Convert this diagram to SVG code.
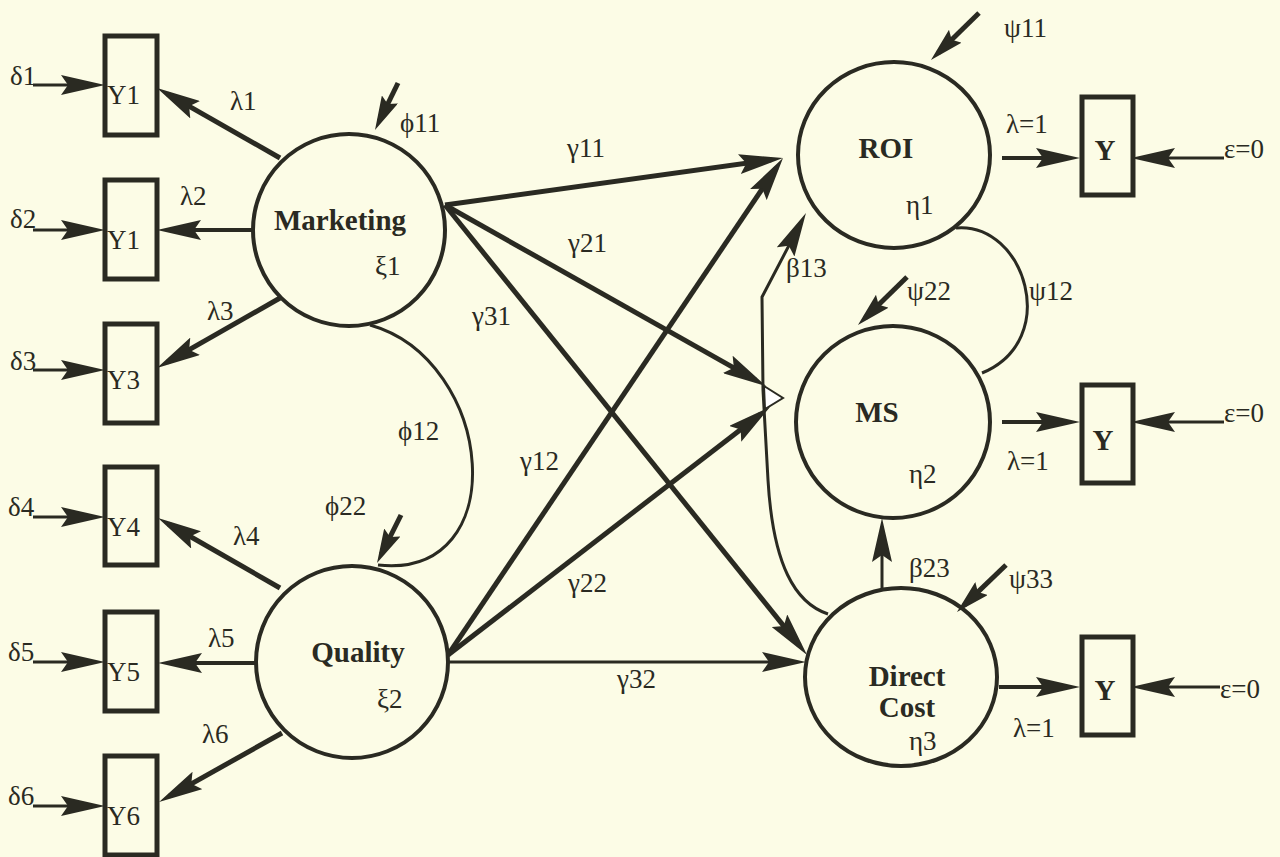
<svg xmlns="http://www.w3.org/2000/svg" width="1280" height="857" viewBox="0 0 1280 857">
<defs>
<style>
.ln{fill:none;stroke:#2a2a22;stroke-linecap:butt;stroke-linejoin:round}
.w5{stroke-width:5}
.w4{stroke-width:4}
.w3{stroke-width:3}
.arr{marker-end:url(#ah)}
.sm{marker-end:url(#ahs)}
.shape{fill:none;stroke:#2a2a22;stroke-width:4}
.box{fill:none;stroke:#2a2a22;stroke-width:5}
text{font-family:"Liberation Serif","Times New Roman",serif;font-size:27px;fill:#2a2a22}
.bold{font-weight:bold;font-size:29px}
.mid{text-anchor:middle}
</style>
<marker id="ah" viewBox="0 0 44 20" refX="32" refY="10" markerWidth="44" markerHeight="20" markerUnits="userSpaceOnUse" orient="auto">
<path d="M0,0 L44,10 L0,20 L7,10 Z" fill="#2a2a22"/>
</marker>
<marker id="ahs" viewBox="0 0 34 18" refX="24" refY="9" markerWidth="34" markerHeight="18" markerUnits="userSpaceOnUse" orient="auto">
<path d="M0,0 L34,9 L0,18 L5,9 Z" fill="#2a2a22"/>
</marker>
</defs>
<rect width="1280" height="857" fill="#fcfce6"/>

<!-- connectors -->
<g id="connectors">
<!-- measurement errors into indicators -->
<path class="ln w3 arr" d="M33,85 L93,85"/>
<path class="ln w3 arr" d="M33,230 L93,230"/>
<path class="ln w3 arr" d="M33,370 L93,370"/>
<path class="ln w3 arr" d="M33,517 L93,517"/>
<path class="ln w3 arr" d="M33,662 L93,662"/>
<path class="ln w3 arr" d="M33,806 L93,806"/>
<!-- loadings -->
<path class="ln w5 arr" d="M280,158 L167.4,93.9"/>
<path class="ln w4 arr" d="M252,230 L169,230"/>
<path class="ln w5 arr" d="M280,298 L167.4,362.1"/>
<path class="ln w5 arr" d="M280,588 L168.4,524"/>
<path class="ln w4 arr" d="M255,663 L170,663"/>
<path class="ln w5 arr" d="M282,733 L169.5,796.1"/>
<!-- variances of exogenous factors -->
<path class="ln w5 sm" d="M398,83 L379.4,121"/>
<path class="ln w5 sm" d="M401,515 L381.5,554"/>
<!-- covariance phi12 -->
<path class="ln w3" d="M370,325 C495,360 515,580 378,565"/>
<!-- structural paths -->
<path class="ln w5 arr" d="M445,205 L771.1,159.7"/>
<path class="ln w5 arr" d="M445,205 L755.6,380.1"/>
<path class="ln w5 arr" d="M445,205 L799.5,645.6"/>
<path class="ln w5 arr" d="M448,655 L776.3,168"/>
<path class="ln w5 arr" d="M448,655 L760.5,414.3"/>
<path class="ln w3 arr" d="M448,662 L794,662"/>
<!-- beta paths -->
<path class="ln w3 arr" d="M828,614 C795,603 773,565 768,480 L763,390 L762,297 L800.4,223.6"/>
<path class="ln w3 arr" d="M882,590 L882,530"/>
<polygon points="764,386 783,398 765,409" fill="#ffffff" stroke="#2a2a22" stroke-width="2"/>
<!-- disturbances -->
<path class="ln w5 sm" d="M979,13 L938.1,53"/>
<path class="ln w5 sm" d="M907,277 L865.1,318"/>
<path class="ln w5 sm" d="M1006,565 L964.2,605.1"/>
<!-- covariance psi12 -->
<path class="ln w3" d="M956,228 C1025,222 1062,340 982,373"/>
<!-- fixed loadings to single indicators -->
<path class="ln w4 arr" d="M1002,158 L1068,158"/>
<path class="ln w4 arr" d="M1002,422 L1068,422"/>
<path class="ln w4 arr" d="M999,687 L1068,687"/>
<!-- zero error terms -->
<path class="ln w3 arr" d="M1224,158 L1143,158"/>
<path class="ln w3 arr" d="M1224,422 L1143,422"/>
<path class="ln w3 arr" d="M1220,687 L1143,687"/>
</g>

<!-- indicator boxes, left -->
<g id="node-y1"><rect class="box" x="105" y="36" width="52" height="99"/><text x="107" y="104">Y1</text></g>
<g id="node-y2"><rect class="box" x="105" y="180" width="52" height="99"/><text x="107" y="249">Y1</text></g>
<g id="node-y3"><rect class="box" x="105" y="324" width="52" height="99"/><text x="107" y="389">Y3</text></g>
<g id="node-y4"><rect class="box" x="105" y="467" width="52" height="98"/><text x="107" y="536">Y4</text></g>
<g id="node-y5"><rect class="box" x="105" y="612" width="52" height="99"/><text x="107" y="681">Y5</text></g>
<g id="node-y6"><rect class="box" x="105" y="756" width="52" height="99"/><text x="107" y="825">Y6</text></g>

<!-- latent factors -->
<g id="node-marketing"><circle class="shape" cx="349" cy="230" r="96"/><text class="bold mid" x="340" y="230">Marketing</text><text x="375" y="275">ξ1</text></g>
<g id="node-quality"><circle class="shape" cx="352" cy="662" r="96"/><text class="bold mid" x="358" y="662">Quality</text><text x="377" y="708">ξ2</text></g>
<g id="node-roi"><ellipse class="shape" cx="894" cy="155" rx="96" ry="93"/><text class="bold mid" x="886" y="158">ROI</text><text x="906" y="214">η1</text></g>
<g id="node-ms"><ellipse class="shape" cx="893" cy="422" rx="97" ry="96"/><text class="bold mid" x="877" y="422">MS</text><text x="909" y="483">η2</text></g>
<g id="node-dc"><ellipse class="shape" cx="901" cy="677" rx="96" ry="89"/><text class="bold mid" x="907" y="686">Direct</text><text class="bold mid" x="907" y="717">Cost</text><text x="909" y="750">η3</text></g>

<!-- indicator boxes, right -->
<g id="node-y-roi"><rect class="box" x="1082" y="97" width="51" height="98"/><text class="bold mid" x="1105" y="160">Y</text></g>
<g id="node-y-ms"><rect class="box" x="1082" y="385" width="51" height="98"/><text class="bold mid" x="1103" y="450">Y</text></g>
<g id="node-y-dc"><rect class="box" x="1082" y="637" width="51" height="98"/><text class="bold mid" x="1105" y="700">Y</text></g>

<!-- parameter labels -->
<g id="labels">
<text x="10" y="85">δ1</text>
<text x="10" y="228">δ2</text>
<text x="10" y="370">δ3</text>
<text x="8" y="516">δ4</text>
<text x="8" y="661">δ5</text>
<text x="8" y="805">δ6</text>
<text x="230" y="110">λ1</text>
<text x="180" y="205">λ2</text>
<text x="207" y="320">λ3</text>
<text x="233" y="545">λ4</text>
<text x="208" y="647">λ5</text>
<text x="202" y="743">λ6</text>
<text x="400" y="132">ϕ11</text>
<text x="398" y="440">ϕ12</text>
<text x="325" y="515">ϕ22</text>
<text x="567" y="157">γ11</text>
<text x="568" y="252">γ21</text>
<text x="472" y="325">γ31</text>
<text x="520" y="470">γ12</text>
<text x="568" y="592">γ22</text>
<text x="617" y="688">γ32</text>
<text x="786" y="277">β13</text>
<text x="909" y="577">β23</text>
<text x="1004" y="37">ψ11</text>
<text x="907" y="300">ψ22</text>
<text x="1029" y="300">ψ12</text>
<text x="1009" y="588">ψ33</text>
<text x="1006" y="133">λ=1</text>
<text x="1007" y="470">λ=1</text>
<text x="1013" y="737">λ=1</text>
<text x="1224" y="158">ε=0</text>
<text x="1224" y="422">ε=0</text>
<text x="1220" y="698">ε=0</text>
</g>
</svg>
